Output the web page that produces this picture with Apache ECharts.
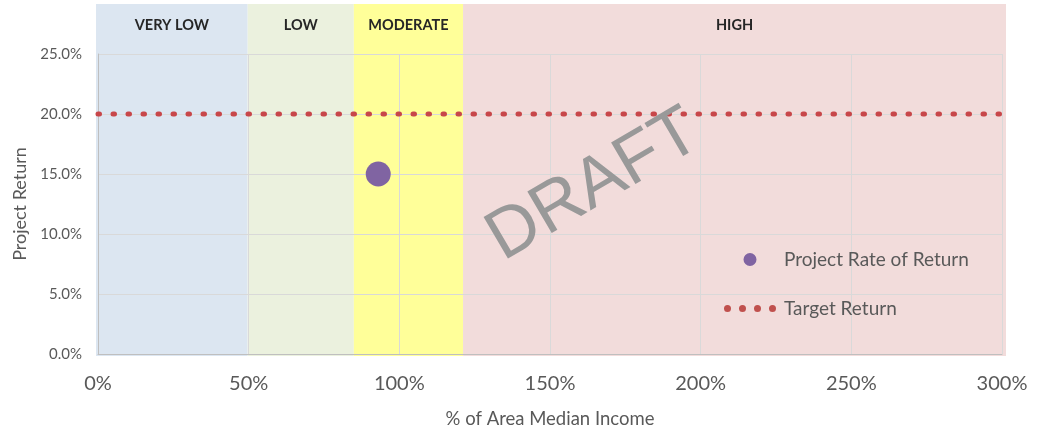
<!DOCTYPE html>
<html><head><meta charset="utf-8">
<script src="https://cdn.jsdelivr.net/npm/echarts@6/dist/echarts.min.js"></script>
<style>html,body{margin:0;padding:0;background:#fff}#c{width:1045px;height:427px}</style>
</head><body><div id="c"></div>
<script>
// Data
const xTicks = [0, 50, 100, 150, 200, 250, 300];
const yTicks = [0, 5, 10, 15, 20, 25];
const bandNames = ['VERY LOW', 'LOW', 'MODERATE', 'HIGH'];
const bandStarts = [0, 50, 85, 121];
const bandEnds = [50, 85, 121, 300];
const bandColors = ['#dce6f1', '#ebf1de', '#ffff99', '#f2dcdb'];
const projectPoint = [[93, 15]];
const targetLine = [[0, 20], [300, 20]];

const font = 'Lato, "Open Sans", sans-serif';
const bands = bandNames.map((n, i) => [bandStarts[i], bandEnds[i], n, bandColors[i]]);

// legend icon: four dots in a 52x13 box (tiny segments pin the bounding box)
const dot = (cx) => 'M' + (cx - 3.5) + ',6.5a3.5,3.5 0 1,0 7,0a3.5,3.5 0 1,0 -7,0';
const dotsIcon = 'path://M0,0L0.01,0.01M52,13L51.99,12.99' + [3.5, 18.5, 33.5, 48.5].map(dot).join('');
const circIcon = 'path://M0,0L0.01,0.01M52,13L51.99,12.99M19.5,6.5a6.5,6.5 0 1,0 13,0a6.5,6.5 0 1,0 -13,0';

const chart = echarts.init(document.getElementById('c'));
chart.setOption({
  animation: false,
  backgroundColor: '#fff',
  grid: [
    {left: 98, right: 43, top: 54, bottom: 73, containLabel: false, outerBoundsMode: 'none'},
    {left: 96, right: 39, top: 4, bottom: 71, containLabel: false, outerBoundsMode: 'none'}
  ],
  xAxis: [
    {type: 'value', gridIndex: 0, min: 0, max: 300, interval: 50,
     axisLine: {show: true, lineStyle: {color: '#bfbfbf', width: 1}},
     axisTick: {show: false},
     axisLabel: {formatter: v => v + '%', color: '#595959', fontSize: 20, fontFamily: font, margin: 20},
     splitLine: {show: true, lineStyle: {color: '#d9d9d9', width: 1}},
     name: '% of Area Median Income', nameLocation: 'middle', nameGap: 56,
     nameTextStyle: {color: '#595959', fontSize: 18.5, fontFamily: font}},
    {type: 'value', gridIndex: 1, min: 0, max: 300, show: false}
  ],
  yAxis: [
    {type: 'value', gridIndex: 0, min: 0, max: 25, interval: 5,
     axisLine: {show: true, lineStyle: {color: '#bfbfbf', width: 1}},
     axisTick: {show: false},
     axisLabel: {formatter: v => v.toFixed(1) + '%', color: '#595959', fontSize: 15, fontFamily: font, margin: 16},
     splitLine: {show: true, lineStyle: {color: '#d9d9d9', width: 1}},
     name: 'Project Return', nameLocation: 'middle', nameGap: 68,
     nameTextStyle: {color: '#595959', fontSize: 18, fontFamily: font}},
    {type: 'value', gridIndex: 1, min: 0, max: 1, show: false}
  ],
  legend: {
    orient: 'vertical', left: 719, top: 245, itemGap: 30, itemWidth: 52, itemHeight: 13,
    textStyle: {color: '#595959', fontSize: 19, fontFamily: font, padding: [0, 0, 0, 3]},
    data: [
      {name: 'Project Rate of Return', icon: circIcon},
      {name: 'Target Return', icon: dotsIcon}
    ]
  },
  graphic: [{
    type: 'text', x: 594, y: 186, rotation: 0.53, z: 50,
    style: {text: 'DRAFT', fontSize: 70, fontFamily: '"Liberation Sans", Arial, sans-serif',
            fill: '#999999', textAlign: 'center', textVerticalAlign: 'middle'}
  }],
  series: [
    {type: 'custom', xAxisIndex: 1, yAxisIndex: 1, z: -10, silent: true,
     data: bands,
     renderItem: function (params, api) {
       const p0 = api.coord([api.value(0), 1]);
       const p1 = api.coord([api.value(1), 0]);
       const d = bands[params.dataIndex];
       return {type: 'group', children: [
         {type: 'rect', shape: {x: p0[0], y: p0[1], width: p1[0] - p0[0], height: p1[1] - p0[1]},
          style: {fill: d[3]}},
         {type: 'text', x: (p0[0] + p1[0]) / 2, y: p0[1] + 21,
          style: {text: d[2], fill: '#262626', fontSize: 14.5, fontFamily: font, fontWeight: 'bold',
                  textAlign: 'center', textVerticalAlign: 'middle'}}
       ]};
     }},
    {name: 'Target Return', type: 'line', data: targetLine, symbol: 'none', z: 3,
     lineStyle: {color: '#c8474a', width: 5, type: [1.5, 13.5], cap: 'round'},
     itemStyle: {color: '#c0504d'}},
    {name: 'Project Rate of Return', type: 'scatter', data: projectPoint, symbolSize: 25, z: 4,
     itemStyle: {color: '#8064a2', opacity: 1}}
  ]
});
</script></body></html>
